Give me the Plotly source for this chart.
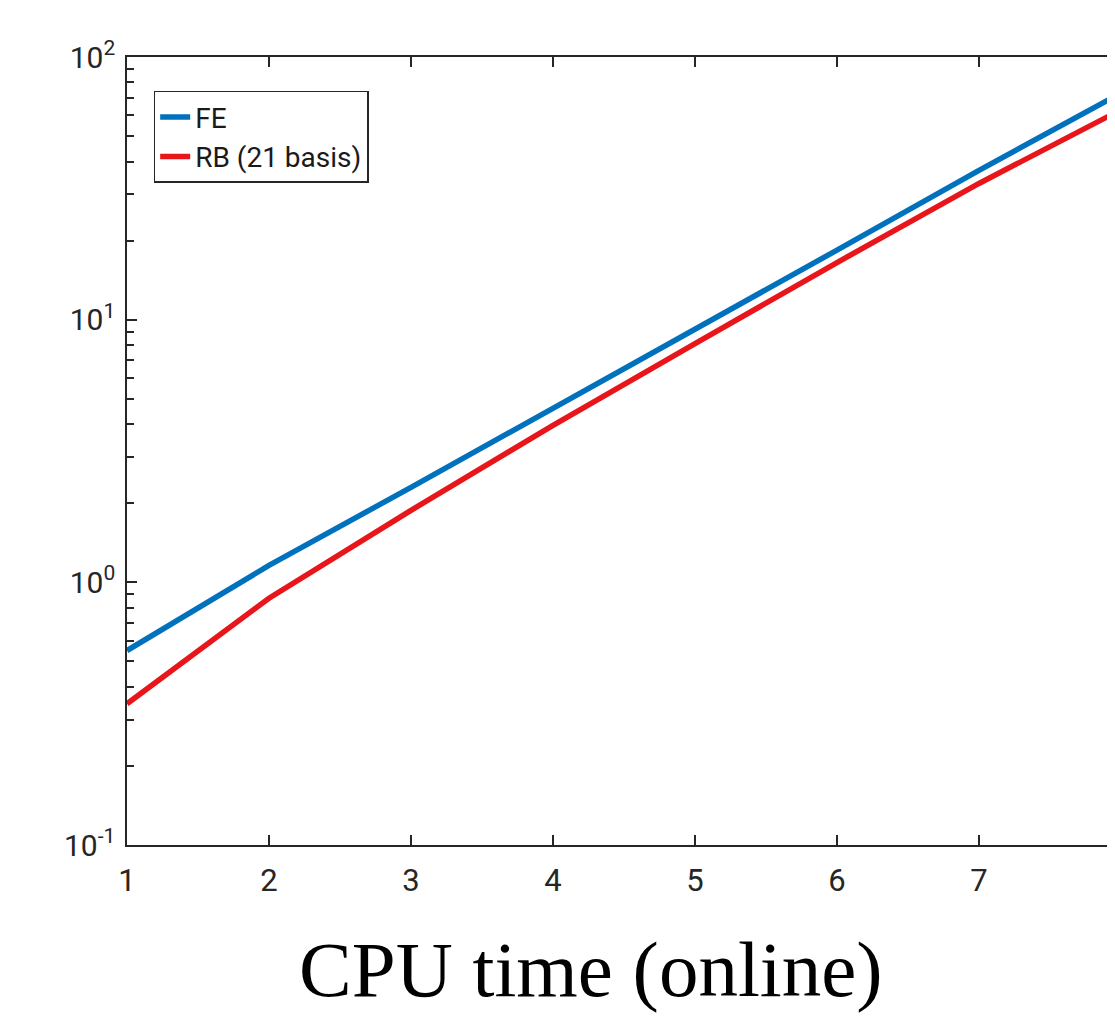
import plotly.graph_objects as go

x_vals = [1, 2, 3, 4, 5, 6, 7, 8]
fe_vals = [0.55, 1.16, 2.3, 4.6, 9.1, 18.4, 37, 73]
rb_vals = [0.345, 0.87, 1.88, 3.96, 8.1, 16.5, 33, 63]

y_tickvals = [0.1, 1, 10, 100]
y_ticktext = ["10<sup>-1</sup>", "10<sup>0</sup>", "10<sup>1</sup>", "10<sup>2</sup>"]
y_minor = [m * 10 ** e for e in (-1, 0, 1) for m in range(2, 10)]
x_tickvals = [1, 2, 3, 4, 5, 6, 7, 8]

axis_color = "#262626"

fig = go.Figure()
fig.add_trace(go.Scatter(x=x_vals, y=fe_vals, mode="lines", name="FE",
                         line=dict(color="#0072BD", width=5.5)))
fig.add_trace(go.Scatter(x=x_vals, y=rb_vals, mode="lines", name="RB (21 basis)",
                         line=dict(color="#E8161B", width=5.5)))

fig.update_layout(
    width=1107, height=1010,
    margin=dict(l=119, r=0, t=49, b=173),
    paper_bgcolor="white", plot_bgcolor="white",
    font=dict(family="Roboto", color=axis_color),
    showlegend=True,
    legend=dict(x=0.027, y=0.957, xanchor="left", yanchor="top",
                bgcolor="white", bordercolor=axis_color, borderwidth=1.5,
                font=dict(family="Roboto", size=28, color="#1a1a1a"),
                itemwidth=30, tracegroupgap=0),
    xaxis=dict(range=[1, 1 + 988 / 142], tickvals=x_tickvals,
               ticks="inside", ticklen=10, tickwidth=1.5, tickcolor=axis_color,
               showline=True, linecolor=axis_color, linewidth=1.5, mirror="ticks",
               showgrid=False, zeroline=False, ticklabelstandoff=7,
               tickfont=dict(family="Roboto", size=31, color=axis_color)),
    yaxis=dict(type="log", range=[-1, 2], tickvals=y_tickvals, ticktext=y_ticktext,
               ticks="inside", ticklen=10, tickwidth=1.5, tickcolor=axis_color,
               showline=True, linecolor=axis_color, linewidth=1.5,
               showgrid=False, zeroline=False, ticklabelstandoff=4,
               minor=dict(tickvals=y_minor, ticks="inside", ticklen=7,
                          tickwidth=1.5, tickcolor=axis_color, showgrid=False),
               tickfont=dict(family="Roboto", size=30, color=axis_color)),
)

fig.add_annotation(text="CPU time (online)", xref="paper", yref="paper",
                   x=0.4696, y=-0.158, xanchor="center", yanchor="middle",
                   showarrow=False,
                   font=dict(family="Liberation Serif", size=79, color="black"))

fig.write_html("out.html")
